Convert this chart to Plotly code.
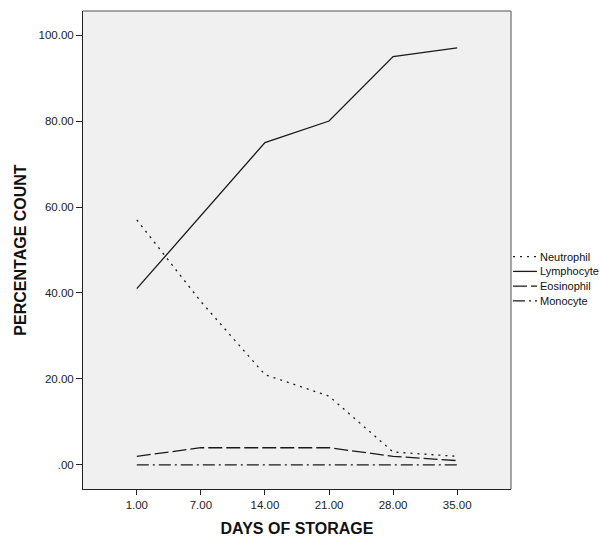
import plotly.graph_objects as go

days = ["1.00", "7.00", "14.00", "21.00", "28.00", "35.00"]
neutrophil = [57, 38, 21, 16, 3, 2]
lymphocyte = [41, 58, 75, 80, 95, 97]
eosinophil = [2, 4, 4, 4, 2, 1]
monocyte = [0, 0, 0, 0, 0, 0]
names = ["Neutrophil", "Lymphocyte", "Eosinophil", "Monocyte"]
y_ticks = [0, 20, 40, 60, 80, 100]
y_tick_labels = [".00", "20.00", "40.00", "60.00", "80.00", "100.00"]

values = [neutrophil, lymphocyte, eosinophil, monocyte]
dashes = ["2px,5px", "solid", "14px,4px", "12px,4px,2px,4px"]
LINE = "#1a1a1a"

# plot area in pixels: x 83..511, y 11..489
PL, PR, PT, PB = 83, 511, 11, 489
W, H = 600, 537

def px_x(x):
    return (x - PL) / (PR - PL)

def px_y(y):
    return (PB - y) / (PB - PT)

fig = go.Figure()
for name, vals, dash in zip(names, values, dashes):
    fig.add_trace(go.Scatter(
        x=list(range(len(days))), y=vals, name=name, mode="lines",
        line=dict(color=LINE, width=1.3, dash=dash),
        showlegend=False, hoverinfo="skip",
    ))

shapes = [
    dict(type="line", xref="paper", yref="paper", x0=0, x1=1, y0=1, y1=1,
         line=dict(color="#888", width=1.5)),
    dict(type="line", xref="paper", yref="paper", x0=1, x1=1, y0=0, y1=1,
         line=dict(color="#888", width=1.5)),
]
annotations = []
legend_y0 = 256.7
legend_step = 14.7
for i, (name, dash) in enumerate(zip(names, dashes)):
    yy = px_y(legend_y0 + i * legend_step)
    shapes.append(dict(type="line", xref="paper", yref="paper",
                       x0=px_x(513), x1=px_x(537), y0=yy, y1=yy,
                       line=dict(color=LINE, width=1.3, dash=dash)))
    annotations.append(dict(xref="paper", yref="paper", x=px_x(538), y=yy,
                            xanchor="left", yanchor="middle", showarrow=False,
                            text=name, font=dict(size=11, color="#111")))

TICKFONT = dict(family="Liberation Sans, Arial, sans-serif", size=11.5, color="#222")

fig.update_layout(
    template="none",
    width=W, height=H,
    margin=dict(l=PL, r=W - PR, t=PT, b=H - PB, autoexpand=False),
    paper_bgcolor="white",
    plot_bgcolor="#f0f0f0",
    font=dict(family="Liberation Sans, Arial, sans-serif", size=11.5, color="#222"),
    showlegend=False,
    xaxis=dict(
        tickmode="array", tickvals=list(range(len(days))), ticktext=days,
        range=[-0.84, 5.84], showgrid=False, zeroline=False,
        showline=True, linecolor="#222", linewidth=1,
        ticks="outside", ticklen=5, tickcolor="#222", tickfont=TICKFONT,
        title=dict(text="<b>DAYS OF STORAGE</b>", font=dict(size=16, color="#111"), standoff=14),
    ),
    yaxis=dict(
        range=[-5.6, 105.6], tickvals=y_ticks, ticktext=y_tick_labels,
        showgrid=False, zeroline=False,
        showline=True, linecolor="#222", linewidth=1,
        ticks="outside", ticklen=6, tickcolor="#222", tickfont=TICKFONT,
        title=dict(text="<b>PERCENTAGE COUNT</b>", font=dict(size=16, color="#111"), standoff=7),
    ),
    shapes=shapes,
    annotations=annotations,
)

fig.write_html("out.html", config={"displayModeBar": False},
               post_script="document.body.style.margin='0';document.body.style.overflow='hidden';")
